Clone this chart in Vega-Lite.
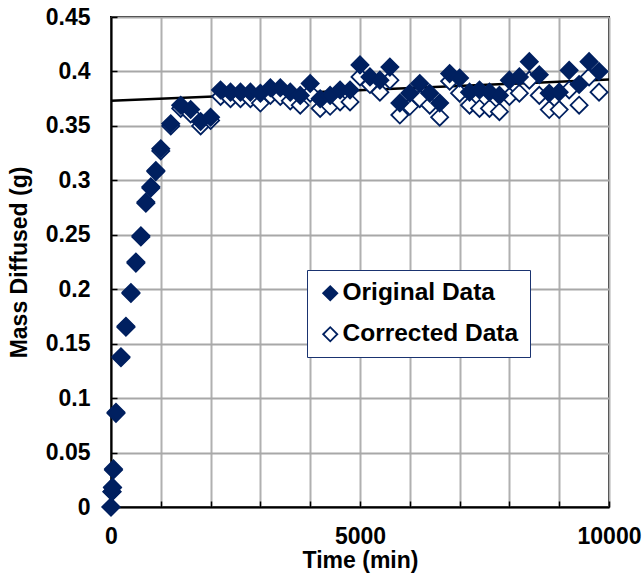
{
  "$schema": "https://vega.github.io/schema/vega-lite/v6.json",
  "autosize": "none",
  "width": 498,
  "height": 490,
  "padding": {"left": 111, "top": 17, "right": 34, "bottom": 72},
  "background": "white",
  "config": {
    "font": "Liberation Sans",
    "view": {"stroke": "black", "strokeWidth": 2},
    "axis": {
      "labelFont": "Liberation Sans",
      "labelFontWeight": "bold",
      "labelFontSize": 23,
      "labelColor": "black",
      "titleFont": "Liberation Sans",
      "titleFontWeight": "bold",
      "titleFontSize": 23,
      "titleColor": "black",
      "domainColor": "black",
      "domainWidth": 2,
      "tickColor": "black",
      "tickWidth": 1.5,
      "gridColor": "#b0b0b0",
      "gridWidth": 2
    }
  },
  "datasets": {
    "pts": [
      {"t": 0, "mass": 0.0, "series": "Corrected Data"},
      {"t": 20, "mass": 0.014, "series": "Corrected Data"},
      {"t": 30, "mass": 0.018, "series": "Corrected Data"},
      {"t": 50, "mass": 0.034, "series": "Corrected Data"},
      {"t": 100, "mass": 0.086, "series": "Corrected Data"},
      {"t": 200, "mass": 0.137, "series": "Corrected Data"},
      {"t": 300, "mass": 0.165, "series": "Corrected Data"},
      {"t": 400, "mass": 0.196, "series": "Corrected Data"},
      {"t": 500, "mass": 0.224, "series": "Corrected Data"},
      {"t": 600, "mass": 0.248, "series": "Corrected Data"},
      {"t": 700, "mass": 0.279, "series": "Corrected Data"},
      {"t": 800, "mass": 0.293, "series": "Corrected Data"},
      {"t": 900, "mass": 0.308, "series": "Corrected Data"},
      {"t": 1000, "mass": 0.327, "series": "Corrected Data"},
      {"t": 1200, "mass": 0.350, "series": "Corrected Data"},
      {"t": 1400, "mass": 0.366, "series": "Corrected Data"},
      {"t": 1600, "mass": 0.361, "series": "Corrected Data"},
      {"t": 1800, "mass": 0.350, "series": "Corrected Data"},
      {"t": 2000, "mass": 0.355, "series": "Corrected Data"},
      {"t": 2200, "mass": 0.377, "series": "Corrected Data"},
      {"t": 2400, "mass": 0.375, "series": "Corrected Data"},
      {"t": 2600, "mass": 0.375, "series": "Corrected Data"},
      {"t": 2800, "mass": 0.375, "series": "Corrected Data"},
      {"t": 3000, "mass": 0.371, "series": "Corrected Data"},
      {"t": 3200, "mass": 0.378, "series": "Corrected Data"},
      {"t": 3400, "mass": 0.377, "series": "Corrected Data"},
      {"t": 3600, "mass": 0.373, "series": "Corrected Data"},
      {"t": 3800, "mass": 0.369, "series": "Corrected Data"},
      {"t": 4000, "mass": 0.380, "series": "Corrected Data"},
      {"t": 4200, "mass": 0.366, "series": "Corrected Data"},
      {"t": 4400, "mass": 0.368, "series": "Corrected Data"},
      {"t": 4600, "mass": 0.372, "series": "Corrected Data"},
      {"t": 4800, "mass": 0.372, "series": "Corrected Data"},
      {"t": 5000, "mass": 0.395, "series": "Corrected Data"},
      {"t": 5200, "mass": 0.388, "series": "Corrected Data"},
      {"t": 5400, "mass": 0.381, "series": "Corrected Data"},
      {"t": 5600, "mass": 0.392, "series": "Corrected Data"},
      {"t": 5800, "mass": 0.360, "series": "Corrected Data"},
      {"t": 6000, "mass": 0.368, "series": "Corrected Data"},
      {"t": 6200, "mass": 0.375, "series": "Corrected Data"},
      {"t": 6400, "mass": 0.369, "series": "Corrected Data"},
      {"t": 6600, "mass": 0.358, "series": "Corrected Data"},
      {"t": 6800, "mass": 0.391, "series": "Corrected Data"},
      {"t": 7000, "mass": 0.380, "series": "Corrected Data"},
      {"t": 7200, "mass": 0.369, "series": "Corrected Data"},
      {"t": 7400, "mass": 0.366, "series": "Corrected Data"},
      {"t": 7600, "mass": 0.366, "series": "Corrected Data"},
      {"t": 7800, "mass": 0.363, "series": "Corrected Data"},
      {"t": 8000, "mass": 0.377, "series": "Corrected Data"},
      {"t": 8200, "mass": 0.380, "series": "Corrected Data"},
      {"t": 8400, "mass": 0.392, "series": "Corrected Data"},
      {"t": 8600, "mass": 0.378, "series": "Corrected Data"},
      {"t": 8800, "mass": 0.365, "series": "Corrected Data"},
      {"t": 9000, "mass": 0.365, "series": "Corrected Data"},
      {"t": 9200, "mass": 0.383, "series": "Corrected Data"},
      {"t": 9400, "mass": 0.369, "series": "Corrected Data"},
      {"t": 9600, "mass": 0.395, "series": "Corrected Data"},
      {"t": 9800, "mass": 0.381, "series": "Corrected Data"},
      {"t": 0, "mass": 0.0, "series": "Original Data"},
      {"t": 20, "mass": 0.014, "series": "Original Data"},
      {"t": 30, "mass": 0.018, "series": "Original Data"},
      {"t": 50, "mass": 0.035, "series": "Original Data"},
      {"t": 100, "mass": 0.087, "series": "Original Data"},
      {"t": 200, "mass": 0.138, "series": "Original Data"},
      {"t": 300, "mass": 0.166, "series": "Original Data"},
      {"t": 400, "mass": 0.197, "series": "Original Data"},
      {"t": 500, "mass": 0.225, "series": "Original Data"},
      {"t": 600, "mass": 0.249, "series": "Original Data"},
      {"t": 700, "mass": 0.280, "series": "Original Data"},
      {"t": 800, "mass": 0.294, "series": "Original Data"},
      {"t": 900, "mass": 0.309, "series": "Original Data"},
      {"t": 1000, "mass": 0.329, "series": "Original Data"},
      {"t": 1200, "mass": 0.352, "series": "Original Data"},
      {"t": 1400, "mass": 0.369, "series": "Original Data"},
      {"t": 1600, "mass": 0.365, "series": "Original Data"},
      {"t": 1800, "mass": 0.354, "series": "Original Data"},
      {"t": 2000, "mass": 0.358, "series": "Original Data"},
      {"t": 2200, "mass": 0.383, "series": "Original Data"},
      {"t": 2400, "mass": 0.381, "series": "Original Data"},
      {"t": 2600, "mass": 0.381, "series": "Original Data"},
      {"t": 2800, "mass": 0.381, "series": "Original Data"},
      {"t": 3000, "mass": 0.380, "series": "Original Data"},
      {"t": 3200, "mass": 0.385, "series": "Original Data"},
      {"t": 3400, "mass": 0.385, "series": "Original Data"},
      {"t": 3600, "mass": 0.381, "series": "Original Data"},
      {"t": 3800, "mass": 0.378, "series": "Original Data"},
      {"t": 4000, "mass": 0.389, "series": "Original Data"},
      {"t": 4200, "mass": 0.375, "series": "Original Data"},
      {"t": 4400, "mass": 0.378, "series": "Original Data"},
      {"t": 4600, "mass": 0.383, "series": "Original Data"},
      {"t": 4800, "mass": 0.383, "series": "Original Data"},
      {"t": 5000, "mass": 0.406, "series": "Original Data"},
      {"t": 5200, "mass": 0.395, "series": "Original Data"},
      {"t": 5400, "mass": 0.392, "series": "Original Data"},
      {"t": 5600, "mass": 0.404, "series": "Original Data"},
      {"t": 5800, "mass": 0.371, "series": "Original Data"},
      {"t": 6000, "mass": 0.380, "series": "Original Data"},
      {"t": 6200, "mass": 0.389, "series": "Original Data"},
      {"t": 6400, "mass": 0.380, "series": "Original Data"},
      {"t": 6600, "mass": 0.371, "series": "Original Data"},
      {"t": 6800, "mass": 0.398, "series": "Original Data"},
      {"t": 7000, "mass": 0.394, "series": "Original Data"},
      {"t": 7200, "mass": 0.381, "series": "Original Data"},
      {"t": 7400, "mass": 0.383, "series": "Original Data"},
      {"t": 7600, "mass": 0.381, "series": "Original Data"},
      {"t": 7800, "mass": 0.378, "series": "Original Data"},
      {"t": 8000, "mass": 0.392, "series": "Original Data"},
      {"t": 8200, "mass": 0.395, "series": "Original Data"},
      {"t": 8400, "mass": 0.409, "series": "Original Data"},
      {"t": 8600, "mass": 0.397, "series": "Original Data"},
      {"t": 8800, "mass": 0.380, "series": "Original Data"},
      {"t": 9000, "mass": 0.381, "series": "Original Data"},
      {"t": 9200, "mass": 0.401, "series": "Original Data"},
      {"t": 9400, "mass": 0.388, "series": "Original Data"},
      {"t": 9600, "mass": 0.409, "series": "Original Data"},
      {"t": 9800, "mass": 0.400, "series": "Original Data"}
    ],
    "trend": [
      {"t": 0, "mass": 0.373},
      {"t": 10000, "mass": 0.3925}
    ]
  },
  "encoding": {
    "x": {"field": "t", "type": "quantitative", "scale": {"domain": [0, 10000], "nice": false},
      "axis": {"values": [0,1000,2000,3000,4000,5000,6000,7000,8000,9000,10000],
               "labelExpr": "datum.value % 5000 === 0 ? datum.label : ''",
               "labelOverlap": false,
               "format": "d", "tickSize": -6, "labelPadding": 24, "labelFlush": false,
               "title": "Time (min)", "titlePadding": 1}},
    "y": {"field": "mass", "type": "quantitative", "scale": {"domain": [0, 0.45], "nice": false},
      "axis": {"values": [0,0.05,0.1,0.15,0.2,0.25,0.3,0.35,0.4,0.45],
               "labelExpr": "toString(round(datum.value*100)/100)",
               "labelOverlap": false,
               "grid": true,
               "gridColor": "#a8a8a8",
               "gridWidth": 2,
               "tickSize": -6, "labelPadding": 27, "labelFlush": false,
               "title": "Mass Diffused (g)", "titlePadding": 14}}
  },
  "layer": [
    {
      "data": {"name": "trend"},
      "mark": {"type": "line", "color": "black", "strokeWidth": 2.5, "clip": true}
    },
    {
      "data": {"name": "pts"},
      "mark": {"type": "point", "shape": "diamond", "filled": true, "size": 290, "stroke": "#002060", "strokeWidth": 1.8, "opacity": 1},
      "encoding": {
        "fill": {"field": "series", "type": "nominal",
          "scale": {"domain": ["Original Data", "Corrected Data"], "range": ["#002060", "#ffffff"]},
          "legend": {"title": null, "orient": "none", "legendX": 196, "legendY": 253,
                     "symbolType": "diamond", "symbolSize": 200, "symbolStrokeColor": "#002060", "symbolStrokeWidth": 1.8,
                     "labelFont": "Liberation Sans", "labelFontWeight": "bold", "labelFontSize": 24.5, "labelColor": "black",
                     "labelLimit": 300, "labelOffset": 0, "rowPadding": 16,
                     "padding": 11, "strokeColor": "#1a3370", "fillColor": "white"}}
      }
    }
  ]
}
